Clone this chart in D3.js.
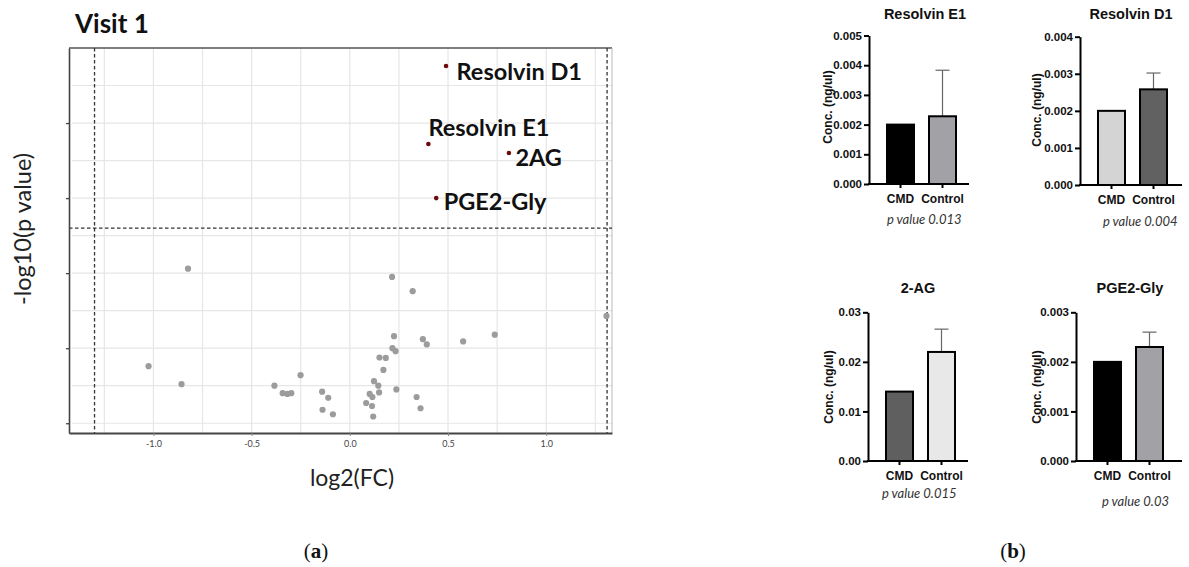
<!DOCTYPE html>
<html>
<head>
<meta charset="utf-8">
<script src="https://cdn.jsdelivr.net/npm/d3@7"></script>
<style>
  body { margin: 0; background: #fff; }
  svg { display: block; }
</style>
</head>
<body>
<div id="chart"></div>
<script>
// ---- volcano plot (a) ----
// log2(FC) and -log10(p) for the non significant compounds
var fcGrey = [-0.824, 0.215, 0.32, 1.307, 0.225, 0.372, 0.392, 0.577, 0.738, 0.217,
  0.233, 0.151, 0.183, 0.171, -1.025, -0.857, -0.251, -0.384, -0.342, -0.318,
  -0.298, -0.141, -0.110, -0.139, -0.086, 0.123, 0.145, 0.101, 0.115, 0.149,
  0.237, 0.083, 0.113, 0.119, 0.340, 0.360];
var pGrey = [2.06, 1.95, 1.76, 1.43, 1.16, 1.12, 1.05, 1.09, 1.18, 1.0,
  0.96, 0.876, 0.87, 0.71, 0.76, 0.52, 0.64, 0.50, 0.40, 0.39,
  0.40, 0.42, 0.34, 0.18, 0.12, 0.56, 0.50, 0.39, 0.35, 0.41,
  0.45, 0.27, 0.23, 0.09, 0.35, 0.20];

// significant ones
var sigNames = ["Resolvin D1", "Resolvin E1", "2AG", "PGE2-Gly"];
var fcSig = [0.49, 0.40, 0.81, 0.44];
var pSig = [4.76, 3.72, 3.60, 3.0];

var fcCut = [-1.3, 1.31];
var pCut = 2.6;
var xTickVals = [-1.0, -0.5, 0.0, 0.5, 1.0];
var yTickVals = [0, 1, 2, 3, 4];

// ---- bar panels (b) ----
var panelTitles = ["Resolvin E1", "Resolvin D1", "2-AG", "PGE2-Gly"];
var groups = ["CMD", "Control"];
var means = [[0.002, 0.00228], [0.002, 0.00258], [0.014, 0.022], [0.002, 0.0023]];
var errTop = [[null, 0.00383], [null, 0.00302], [null, 0.0266], [null, 0.0026]];
var yMaxes = [0.005, 0.004, 0.03, 0.003];
var yStep = [0.001, 0.001, 0.01, 0.001];
var yFormat = [".3f", ".3f", ".2f", ".3f"];
var pLabels = ["p value 0.013", "p value 0.004", "p value 0.015", "p value 0.03"];

var svg = d3.select("#chart").append("svg")
  .attr("width", 1189)
  .attr("height", 567);

svg.append("rect").attr("width", 1189).attr("height", 567).attr("fill", "#fff");

// ======== volcano ========
var vp = { left: 69, right: 612, top: 48, bottom: 433 };

var x = d3.scaleLinear().domain([-1.43, 1.335]).range([vp.left, vp.right]);
var y = d3.scaleLinear().domain([-0.13, 5.0]).range([vp.bottom, vp.top]);

var grid = svg.append("g");
grid.selectAll(".vg")
  .data(d3.range(-1.25, 1.26, 0.25))
  .enter().append("line")
  .attr("x1", d => x(d)).attr("x2", d => x(d))
  .attr("y1", vp.top).attr("y2", vp.bottom)
  .attr("stroke", "#e6e6e6").attr("stroke-width", 1.2);
grid.selectAll(".hg")
  .data(d3.range(0, 4.6, 0.5))
  .enter().append("line")
  .attr("x1", vp.left + 3).attr("x2", vp.right)
  .attr("y1", d => y(d)).attr("y2", d => y(d))
  .attr("stroke", "#e6e6e6").attr("stroke-width", 1.2);

// frame
svg.append("line").attr("x1", vp.left).attr("x2", vp.right)
  .attr("y1", vp.top).attr("y2", vp.top)
  .attr("stroke", "#555").attr("stroke-width", 1.6);
svg.append("line").attr("x1", vp.right).attr("x2", vp.right)
  .attr("y1", vp.top).attr("y2", vp.bottom)
  .attr("stroke", "#bbb").attr("stroke-width", 1);

// cut-off lines
svg.selectAll(".vcut")
  .data(fcCut)
  .enter().append("line")
  .attr("x1", d => x(d)).attr("x2", d => x(d))
  .attr("y1", vp.top).attr("y2", vp.bottom)
  .attr("stroke", "#333").attr("stroke-width", 1.3)
  .attr("stroke-dasharray", "3.5,2.5");
svg.append("line")
  .attr("x1", vp.left).attr("x2", vp.right)
  .attr("y1", y(pCut)).attr("y2", y(pCut))
  .attr("stroke", "#333").attr("stroke-width", 1.3)
  .attr("stroke-dasharray", "3.5,2.5");

// axes
var fmt1 = d3.format(".1f");
var xAxis = svg.append("g")
  .attr("transform", `translate(0, ${vp.bottom})`)
  .call(d3.axisBottom(x).tickValues(xTickVals)
    .tickFormat(d => fmt1(d).replace("\u2212", "-"))
    .tickSize(3).tickSizeOuter(0).tickPadding(5));
xAxis.select(".domain").attr("stroke", "#444").attr("stroke-width", 1.8);
xAxis.selectAll(".tick line").attr("stroke", "#888");
xAxis.selectAll("text").attr("font-family", "Lato, sans-serif").attr("font-size", 9).attr("fill", "#444");

var yAxis = svg.append("g")
  .attr("transform", `translate(${vp.left}, 0)`)
  .call(d3.axisLeft(y).tickValues(yTickVals).tickFormat("").tickSize(3).tickSizeOuter(0));
yAxis.select(".domain").attr("stroke", "#444").attr("stroke-width", 1.6);
yAxis.selectAll(".tick line").attr("stroke", "#444").attr("stroke-width", 1.3);

// points
svg.append("g").selectAll("circle")
  .data(fcGrey.map((d, i) => [d, pGrey[i]]))
  .enter().append("circle")
  .attr("cx", d => x(d[0]))
  .attr("cy", d => y(d[1]))
  .attr("r", 3.1)
  .attr("fill", "#9c9c9c");

var sig = fcSig.map((d, i) => ({ name: sigNames[i], fc: d, p: pSig[i] }));
var labelDx = [10.5, 0, 6.5, 7.5];
var labelDy = [13.5, -8.5, 12.7, 12.3];

svg.append("g").selectAll("circle")
  .data(sig)
  .enter().append("circle")
  .attr("cx", d => x(d.fc))
  .attr("cy", d => y(d.p))
  .attr("r", 2.3)
  .attr("fill", "#6e0a0a");

svg.append("g").selectAll("text")
  .data(sig)
  .enter().append("text")
  .attr("x", (d, i) => x(d.fc) + labelDx[i])
  .attr("y", (d, i) => y(d.p) + labelDy[i])
  .attr("font-family", "Lato, sans-serif")
  .attr("font-weight", 700)
  .attr("font-size", 23.5)
  .attr("fill", "#111")
  .text(d => d.name);

svg.append("text")
  .attr("x", 75).attr("y", 33)
  .attr("font-family", "Lato, sans-serif")
  .attr("font-weight", 700)
  .attr("font-size", 26)
  .attr("fill", "#111")
  .text("Visit 1");

svg.append("text")
  .attr("transform", "translate(23, 229) rotate(-90)")
  .attr("dy", "0.35em")
  .attr("text-anchor", "middle")
  .attr("font-family", "Lato, sans-serif")
  .attr("font-size", 23.5)
  .attr("fill", "#222")
  .text("-log10(p value)");

svg.append("text")
  .attr("x", 352).attr("y", 486)
  .attr("text-anchor", "middle")
  .attr("font-family", "Lato, sans-serif")
  .attr("font-size", 23)
  .attr("fill", "#222")
  .text("log2(FC)");

// ======== bar panels ========
var layout = [
  { x0: 869, yZero: 184, yTop: 35.5, tx: 925, ty: 18.5, lx: 828, ly: 107, px: 887, py: 224, len: 100 },
  { x0: 1080, yZero: 185, yTop: 36.7, tx: 1131, ty: 18.5, lx: 1037, ly: 110, px: 1103, py: 226, len: 102 },
  { x0: 868, yZero: 461, yTop: 312.3, tx: 918, ty: 293, lx: 829, ly: 387, px: 882, py: 498, len: 100 },
  { x0: 1076, yZero: 461, yTop: 312.3, tx: 1130, ty: 293, lx: 1037, ly: 387, px: 1102, py: 506, len: 106 }
];
var fills = [["#000", "#a1a1a6"], ["#d4d4d4", "#616161"], ["#5f5f5f", "#e8e8e8"], ["#000", "#a1a1a6"]];
var fontB = "'Liberation Sans', Arial, sans-serif";

panelTitles.forEach(function(title, i) {
  var L = layout[i];
  var g = svg.append("g");

  var yb = d3.scaleLinear().domain([0, yMaxes[i]]).range([L.yZero, L.yTop]);
  var xb = d3.scaleBand().domain(groups)
    .range([L.x0 + 9.6, L.x0 + 95.4])
    .paddingInner(0.357).paddingOuter(0.2);

  var rows = groups.map((gname, j) => ({ g: gname, v: means[i][j], e: errTop[i][j], fill: fills[i][j] }));

  // error bars (drawn under the bars)
  rows.filter(d => d.e != null).forEach(function(d) {
    var cx = xb(d.g) + xb.bandwidth() / 2;
    g.append("line").attr("x1", cx).attr("x2", cx)
      .attr("y1", yb(d.v)).attr("y2", yb(d.e))
      .attr("stroke", "#666").attr("stroke-width", 1.2);
    g.append("line").attr("x1", cx - 7).attr("x2", cx + 7)
      .attr("y1", yb(d.e)).attr("y2", yb(d.e))
      .attr("stroke", "#666").attr("stroke-width", 1.2);
  });

  g.selectAll("rect")
    .data(rows)
    .enter().append("rect")
    .attr("x", d => xb(d.g))
    .attr("y", d => yb(d.v))
    .attr("width", xb.bandwidth())
    .attr("height", d => L.yZero - yb(d.v))
    .attr("fill", d => d.fill)
    .attr("stroke", "#000")
    .attr("stroke-width", 2);

  var ya = g.append("g")
    .attr("transform", `translate(${L.x0}, 0)`)
    .call(d3.axisLeft(yb)
      .tickValues(d3.range(0, yMaxes[i] + yStep[i] / 2, yStep[i]))
      .tickFormat(d3.format(yFormat[i]))
      .tickSize(5).tickSizeOuter(0).tickPadding(2));
  ya.select(".domain").attr("stroke", "#000").attr("stroke-width", 2);
  ya.selectAll(".tick line").attr("stroke", "#000").attr("stroke-width", 2);
  ya.selectAll("text").attr("font-family", fontB).attr("font-weight", 700)
    .attr("font-size", 11.5).attr("fill", "#111");

  var xa = g.append("g")
    .attr("transform", `translate(0, ${L.yZero})`)
    .call(d3.axisBottom(xb).tickSize(4).tickSizeOuter(0).tickPadding(6));
  xa.select(".domain").remove();
  xa.selectAll(".tick line").attr("stroke", "#000").attr("stroke-width", 2);
  xa.selectAll("text").attr("font-family", fontB).attr("font-weight", 700)
    .attr("font-size", 12).attr("fill", "#111");
  g.append("line")
    .attr("x1", L.x0 - 1).attr("x2", L.x0 + L.len)
    .attr("y1", L.yZero).attr("y2", L.yZero)
    .attr("stroke", "#000").attr("stroke-width", 2);

  g.append("text")
    .attr("x", L.tx).attr("y", L.ty)
    .attr("text-anchor", "middle")
    .attr("font-family", fontB).attr("font-weight", 700)
    .attr("font-size", 14.5).attr("fill", "#111")
    .text(title);

  g.append("text")
    .attr("transform", `translate(${L.lx}, ${L.ly}) rotate(-90)`)
    .attr("dy", "0.35em")
    .attr("text-anchor", "middle")
    .attr("font-family", fontB).attr("font-weight", 700)
    .attr("font-size", 12).attr("fill", "#111")
    .text("Conc. (ng/ul)");

  g.append("text")
    .attr("x", L.px).attr("y", L.py)
    .attr("font-family", "Lato, sans-serif").attr("font-style", "italic")
    .attr("font-size", 13).attr("fill", "#333")
    .text(pLabels[i]);
});

// panel letters
[["a", 316], ["b", 1013]].forEach(function(d) {
  var t = svg.append("text")
    .attr("x", d[1]).attr("y", 558)
    .attr("text-anchor", "middle")
    .attr("font-family", "'Liberation Serif', serif")
    .attr("font-size", 21).attr("fill", "#111");
  t.append("tspan").text("(");
  t.append("tspan").attr("font-weight", 700).text(d[0]);
  t.append("tspan").text(")");
});
</script>
</body>
</html>
